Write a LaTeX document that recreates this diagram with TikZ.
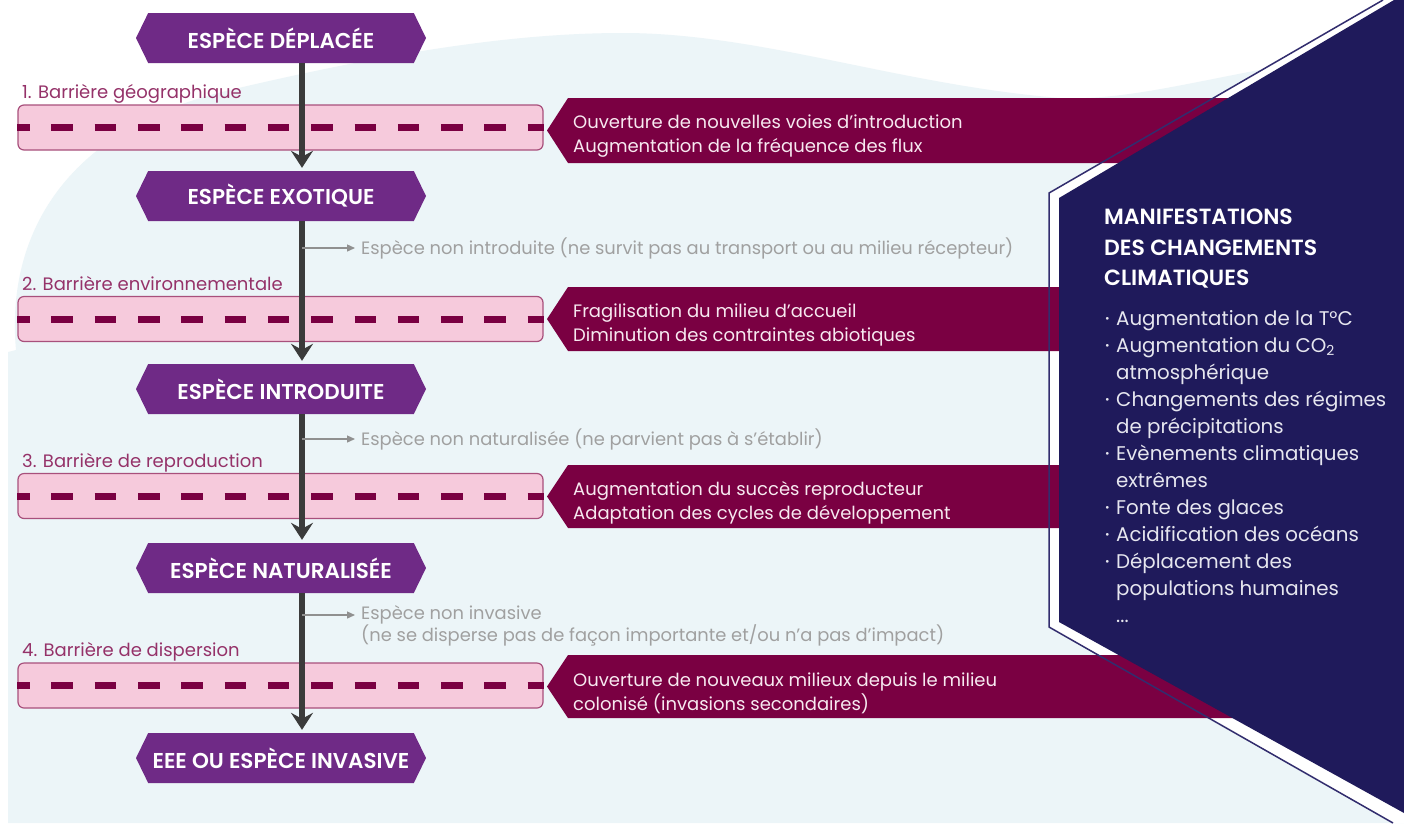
\documentclass[tikz,border=0pt]{standalone}
\usepackage{fontspec}
\setmainfont{Poppins}[BoldFont={Poppins SemiBold}]
\usetikzlibrary{shapes.symbols,arrows.meta}

\definecolor{bgblue}{HTML}{ECF5F8}
\definecolor{hexpurple}{HTML}{6F2A86}
\definecolor{barpink}{HTML}{F6CADC}
\definecolor{barline}{HTML}{A8507C}
\definecolor{maroon}{HTML}{7A0042}
\definecolor{navy}{HTML}{1F1A5B}
\definecolor{navyline}{HTML}{322D6E}
\definecolor{arrowgray}{HTML}{3B3B3B}
\definecolor{softgray}{HTML}{A0A0A0}
\definecolor{labelrose}{HTML}{953269}
\definecolor{bandtext}{HTML}{F7E9F0}
\definecolor{listtext}{HTML}{E6E6EF}

\tikzset{
  espece/.style={signal, signal to=west and east, signal pointer angle=128,
    fill=hexpurple, text=white, minimum width=290pt, minimum height=50pt,
    inner sep=0pt, font=\bfseries\fontsize{21.5}{24}\selectfont},
  barre/.style={rectangle, rounded corners=6pt, fill=barpink, draw=barline,
    line width=1.2pt, minimum width=525pt, minimum height=45pt, inner sep=0pt},
  tirets/.style={draw=maroon, line width=7pt, dash pattern=on 21.5pt off 21.8pt,
    dash phase=9.3pt},
  barlabel/.style={anchor=base west, inner sep=0pt, text=labelrose,
    font=\fontsize{18}{20}\selectfont},
  bandlabel/.style={anchor=west, inner sep=0pt, align=left, text=bandtext,
    font=\fontsize{18}{24}\selectfont},
  fleche/.style={draw=arrowgray, line width=6pt, shorten >=3pt,
    -{Stealth[length=17pt,width=22pt,inset=6pt]}},
  branche/.style={draw=softgray!90!black, line width=1.3pt, shorten >=6pt,
    -{Triangle[length=8pt,width=7pt]}},
  sortie/.style={anchor=west, inner sep=0pt, align=left, text=softgray,
    font=\fontsize{17.9}{22}\selectfont}
}

\newcommand{\puce}{\makebox[11pt][l]{\raisebox{2.5pt}{\fontsize{11}{11}\selectfont •}}}

\begin{document}
\begin{tikzpicture}[x=1pt,y=-1pt]
  \useasboundingbox (0,0) rectangle (1404,823);
  \fill[white] (0,0) rectangle (1404,823);
  % fond bleu clair
  \fill[bgblue] (8,823) -- (8,352) -- (16,350)
    .. controls (6,240) and (60,130) .. (230,90)
    .. controls (400,50) and (520,33) .. (623,33)
    .. controls (760,33) and (900,85) .. (1060,98)
    .. controls (1150,102) and (1250,62) .. (1404,50)
    -- (1404,823) -- cycle;
  \fill[white] (1383,0) -- (1049,193) -- (1049,627) -- (1393,823)
    -- (1404,823) -- (1404,0) -- cycle;

  % barrieres
  \node[barre] (bar1) at (280.5,127.5) {};
  \node[barre] (bar2) at (280.5,319) {};
  \node[barre] (bar3) at (280.5,496) {};
  \node[barre] (bar4) at (280.5,685.5) {};
  \draw[tirets] (bar1.west) -- (bar1.east);
  \draw[tirets] (bar2.west) -- (bar2.east);
  \draw[tirets] (bar3.west) -- (bar3.east);
  \draw[tirets] (bar4.west) -- (bar4.east);
  \node[barlabel] (lab1) at (22,98) {1. Barrière géographique};
  \node[barlabel] (lab2) at (22,290) {2. Barrière environnementale};
  \node[barlabel] (lab3) at (22,467) {3. Barrière de reproduction};
  \node[barlabel] (lab4) at (22,656) {4. Barrière de dispersion};

  % bandes des effets
  \fill[maroon] (568,98) -- (1300,98) -- (1300,163) -- (568,163) -- (547,130.5) -- cycle;
  \fill[maroon] (568,287) -- (1300,287) -- (1300,351) -- (568,351) -- (547,319) -- cycle;
  \fill[maroon] (568,465) -- (1300,465) -- (1300,528) -- (568,528) -- (547,496.5) -- cycle;
  \fill[maroon] (568,655) -- (1300,655) -- (1300,718) -- (568,718) -- (547,686.5) -- cycle;
  \node[bandlabel] (eff1) at (573,136) {Ouverture de nouvelles voies d'introduction\\Augmentation de la fréquence des flux};
  \node[bandlabel] (eff2) at (573,325) {Fragilisation du milieu d'accueil\\Diminution des contraintes abiotiques};
  \node[bandlabel] (eff3) at (573,503) {Augmentation du succès reproducteur\\Adaptation des cycles de développement};
  \node[bandlabel] (eff4) at (573,693) {Ouverture de nouveaux milieux depuis le milieu\\colonisé (invasions secondaires)};

  % panneau des manifestations
  \draw[navyline, line width=1.5pt] (1383,0) -- (1049,193) -- (1049,627) -- (1393,823);
  \fill[navy] (1059,198) -- (1394,0) -- (1404,0) -- (1404,813) -- (1059,622) -- cycle;
  \node[anchor=north west, inner sep=0pt, align=left, text=white,
    font=\bfseries\fontsize{22}{30.5}\selectfont] (titre) at (1104,209)
    {MANIFESTATIONS\\DES CHANGEMENTS\\CLIMATIQUES};
  \node[anchor=north west, inner sep=0pt, align=left, text=listtext,
    font=\fontsize{19.8}{27}\selectfont] (liste) at (1105,310)
    {\puce Augmentation de la T°C\\
     \puce Augmentation du CO\textsubscript{2}\\
     \hspace*{11pt}atmosphérique\\
     \puce Changements des régimes\\
     \hspace*{11pt}de précipitations\\
     \puce Evènements climatiques\\
     \hspace*{11pt}extrêmes\\
     \puce Fonte des glaces\\
     \puce Acidification des océans\\
     \puce Déplacement des\\
     \hspace*{11pt}populations humaines\\
     \hspace*{11pt}...};

  % etapes
  \node[espece] (deplacee) at (281,38) {ESPÈCE DÉPLACÉE};
  \node[espece] (exotique) at (281,196) {ESPÈCE EXOTIQUE};
  \node[espece] (introduite) at (281,389) {ESPÈCE INTRODUITE};
  \node[espece] (naturalisee) at (281,568) {ESPÈCE NATURALISÉE};
  \node[espece] (invasive) at (281,758) {EEE OU ESPÈCE INVASIVE};

  \draw[fleche] ([xshift=21pt]deplacee.south) -- ([xshift=21pt]exotique.north);
  \draw[fleche] ([xshift=21pt]exotique.south) -- ([xshift=21pt]introduite.north);
  \draw[fleche] ([xshift=21pt]introduite.south) -- ([xshift=21pt]naturalisee.north);
  \draw[fleche] ([xshift=21pt]naturalisee.south) -- ([xshift=21pt]invasive.north);

  % especes qui sortent du processus
  \coordinate (b1) at (302,248);
  \coordinate (b2) at (302,439);
  \coordinate (b3) at (302,615);
  \coordinate (e3) at (361,615);
  \node[sortie] (nonintro) at (361,248) {Espèce non introduite (ne survit pas au transport ou au milieu récepteur)};
  \node[sortie] (nonnat) at (361,439) {Espèce non naturalisée (ne parvient pas à s'établir)};
  \node[sortie] (noninv) at (361,626) {Espèce non invasive\\(ne se disperse pas de façon importante et/ou n'a pas d'impact)};
  \draw[branche] (b1) -- (nonintro.west);
  \draw[branche] (b2) -- (nonnat.west);
  \draw[branche] (b3) -- (e3);
\end{tikzpicture}
\end{document}
